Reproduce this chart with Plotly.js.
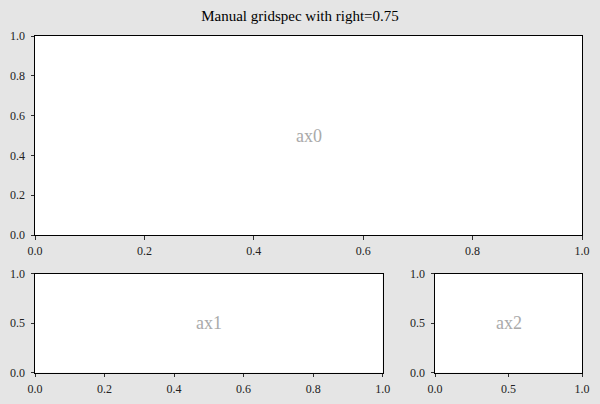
<!DOCTYPE html>
<html><head><meta charset="utf-8">
<script src="https://cdn.plot.ly/plotly-3.0.1.min.js"></script>
<style>html,body{margin:0;padding:0;background:#e5e5e5;}</style>
</head><body><div id="chart" style="width:600px;height:404px;"></div>
<script>
const panelLabels = ["ax0", "ax1", "ax2"];
const labelX = [0.5, 0.5, 0.5];
const labelY = [0.5, 0.5, 0.5];
const axisRange = [0, 1];
const ax0Ticks = [0, 0.2, 0.4, 0.6, 0.8, 1.0];
const ax1XTicks = [0, 0.2, 0.4, 0.6, 0.8, 1.0];
const halfTicks = [0, 0.5, 1.0];
const titleText = "Manual gridspec with right=0.75";

const FONT = "Liberation Serif";
function ax(domain, anchor, ticks, standoff) {
  return {
    domain: domain, anchor: anchor, range: axisRange, tickvals: ticks,
    ticktext: ticks.map(v => v.toFixed(1)),
    showgrid: false, zeroline: false, showline: true, mirror: true,
    linecolor: "#000", linewidth: 1, ticks: "outside", ticklen: 3.5,
    tickwidth: 0.8, tickcolor: "#000", fixedrange: true, ticklabelstandoff: standoff,
    tickfont: {family: FONT, size: 12, color: "#222"}
  };
}
const xrefs = ["x", "x2", "x3"], yrefs = ["y", "y2", "y3"];
const traces = xrefs.map((xr, i) => ({x: [], y: [], xaxis: xr, yaxis: yrefs[i], type: "scatter", mode: "markers", showlegend: false, hoverinfo: "skip"}));
const layout = {
  width: 600, height: 404,
  margin: {l: 0, r: 0, t: 0, b: 0},
  paper_bgcolor: "#e5e5e5", plot_bgcolor: "#ffffff",
  showlegend: false,
  font: {family: FONT},
  title: {text: titleText, x: 0.5, xanchor: "center", y: 1 - 16/404, yanchor: "middle", xref: "paper", yref: "paper",
          font: {family: FONT, size: 15, color: "#000"}},
  xaxis: ax([35/600, 582/600], "y", ax0Ticks, 1),
  yaxis: ax([1 - 235/404, 1 - 36/404], "x", ax0Ticks, 3),
  xaxis2: ax([35/600, 382.7/600], "y2", ax1XTicks, 1),
  yaxis2: ax([1 - 372.7/404, 1 - 273.5/404], "x2", halfTicks, 3),
  xaxis3: ax([435/600, 582/600], "y3", halfTicks, 1),
  yaxis3: ax([1 - 372.7/404, 1 - 273.5/404], "x3", halfTicks, 3),
  annotations: panelLabels.map((t, i) => ({
    text: t, x: labelX[i], y: labelY[i], xref: xrefs[i], yref: yrefs[i],
    showarrow: false, xanchor: "center", yanchor: "middle",
    font: {family: FONT, size: 18, color: "#aaaaaa"}
  }))
};
Plotly.newPlot("chart", traces, layout, {displayModeBar: false, staticPlot: true});
</script></body></html>
